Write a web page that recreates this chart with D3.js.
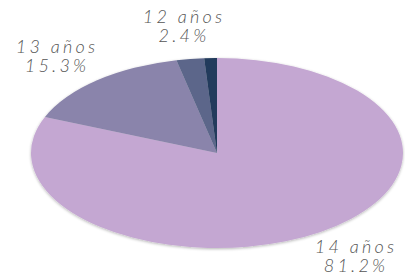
<html lang="es">
<head>
    <meta charset="UTF-8"/>
    <title>Edad</title>
    <script src="https://d3js.org/d3.v7.min.js"></script>
    <style>
        body { margin: 0; background: #ffffff; }
        svg { display: block; }
    </style>
</head>
<body>
    <script>
        // data
        var categories = ["14 años", "13 años", "12 años", "11 años"];
        var values = [81.2, 15.3, 2.4, 1.1];
        var colors = ["#c4a7d2", "#8a84ab", "#5b668a", "#213a5b"];
        var shown = [true, true, true, false];

        var w = 405;
        var h = 277;
        var cx = 217, cy = 153;
        var rx = 186, ry = 95;

        // label anchor points (first line baseline)
        var labelPos = [[356, 252.5], [57, 52.5], [184, 22.5], null];

        var svg = d3.select("body")
                    .append("svg")
                    .attr("width", w)
                    .attr("height", h);

        var defs = svg.append("defs");
        var f = defs.append("filter").attr("id", "soft")
            .attr("x", "-5%").attr("y", "-5%").attr("width", "110%").attr("height", "115%");
        f.append("feGaussianBlur").attr("in", "SourceAlpha").attr("stdDeviation", 1.5).attr("result", "b");
        f.append("feOffset").attr("in", "b").attr("dy", 1).attr("result", "o");
        f.append("feComponentTransfer").attr("in", "o").attr("result", "s")
            .append("feFuncA").attr("type", "linear").attr("slope", 0.3);
        var m = f.append("feMerge");
        m.append("feMergeNode").attr("in", "s");
        m.append("feMergeNode").attr("in", "SourceGraphic");

        var pie = d3.pie().sort(null).value(function(d) { return d; });
        var arc = d3.arc().innerRadius(0).outerRadius(1);

        var g = svg.append("g")
            .attr("filter", "url(#soft)");

        // draw unit circle, stretch into the ellipse
        g.append("g")
            .attr("transform", "translate(" + cx + "," + cy + ") scale(" + rx + "," + ry + ")")
            .selectAll("path")
            .data(pie(values))
            .enter()
            .append("path")
            .attr("d", arc)
            .attr("fill", function(d, i) { return colors[i]; });

        // labels
        var labels = svg.append("g")
            .attr("font-family", "Lato, sans-serif")
            .attr("font-style", "italic")
            .attr("font-weight", 300)
            .attr("font-size", 18)
            .attr("letter-spacing", 3.2)
            .attr("fill", "#555")
            .attr("text-anchor", "middle");

        categories.forEach(function(c, i) {
            if (!shown[i]) return;
            var t = labels.append("text")
                .attr("x", labelPos[i][0])
                .attr("y", labelPos[i][1]);
            t.append("tspan").attr("x", labelPos[i][0]).text(c);
            t.append("tspan").attr("x", labelPos[i][0]).attr("dy", 19.5)
                .text(values[i].toFixed(1) + "%");
        });
    </script>
</body>
</html>
